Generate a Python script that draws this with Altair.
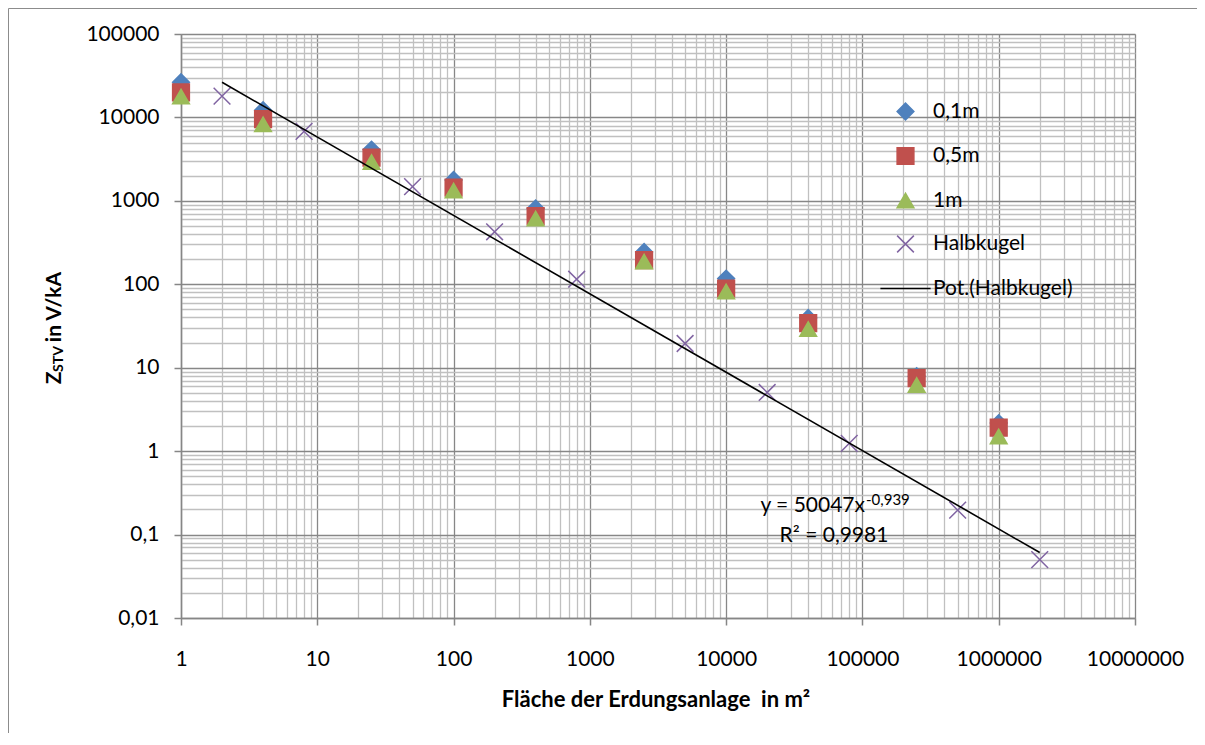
import altair as alt
import pandas as pd

# ---- data ----
areas_sq = [1, 4, 25, 100, 400, 2500, 10000, 40000, 250000, 1000000]
z_01m = [26400, 12200, 4120, 1780, 810, 244, 117, 39.4, 7.9, 2.17]
z_05m = [19950, 9530, 3300, 1440, 658, 195, 89, 34.2, 7.5, 1.91]
z_1m = [17800, 8270, 2920, 1330, 614, 187, 82, 29.1, 6.2, 1.50]
areas_half = [2, 8, 50, 200, 800, 5000, 20000, 80000, 500000, 2000000]
z_half = [18000, 6800, 1480, 426, 115, 19.5, 5.05, 1.24, 0.196, 0.0502]

series_names = ["0,1m", "0,5m", "1m", "Halbkugel", "Pot.(Halbkugel)"]
fill_colors = ["#4F81BD", "#C0504D", "#9BBB59", "transparent", "transparent"]
stroke_colors = ["#4F81BD", "#C0504D", "#9BBB59", "#8064A2", "#000000"]
shapes = ["diamond", "square", "triangle-up", "M-1,-1L1,1M-1,1L1,-1", "M-3,0L3,0"]

x_major = [1, 10, 100, 1000, 10000, 100000, 1000000, 10000000]
y_major = [0.01, 0.1, 1, 10, 100, 1000, 10000, 100000]
x_ticks = x_major + [m * t for t in x_major[:-1] for m in range(2, 10)]
y_ticks = y_major + [m * t for t in y_major[:-1] for m in range(2, 10)]

eq_text = "y = 50047x"
eq_exp = "-0,939"
r2_text = "R² = 0,9981"
x_title = "Fläche der Erdungsanlage\u00a0 in m²"

FONT = "Lato"
rows = []
for name, vals in zip(series_names[:3], [z_01m, z_05m, z_1m]):
    for a, v in zip(areas_sq, vals):
        rows.append({"area": a, "z": v, "series": name})
for a, v in zip(areas_half, z_half):
    rows.append({"area": a, "z": v, "series": "Halbkugel"})
df = pd.DataFrame(rows)
df_half = pd.DataFrame({"area": areas_half, "z": z_half})

major_test = "abs(log(datum.value)/LN10 - round(log(datum.value)/LN10)) < 1e-6"
grid_color = {"condition": {"test": major_test, "value": "#878787"}, "value": "#C0C0C0"}
tick_op = {"condition": {"test": major_test, "value": 1}, "value": 0}
label_expr = f"({major_test}) ? replace(toString(datum.value), '.', ',') : ''"

common_axis = dict(
    title=None, grid=True, gridColor=grid_color, gridWidth=1.3,
    tickOpacity=tick_op, tickSize=7, tickColor="#868686", tickWidth=1.5,
    domainColor="#868686", domainWidth=1.5, labelFont=FONT, labelFontSize=21,
    labelColor="black", labelExpr=label_expr, labelOverlap=False, labelFlush=False,
)
xaxis = alt.Axis(values=x_ticks, labelPadding=23, **common_axis)
yaxis = alt.Axis(values=y_ticks, labelPadding=15, **common_axis)
xscale = alt.Scale(type="log", domain=[1, 10000000], nice=False)
yscale = alt.Scale(type="log", domain=[0.01, 100000], nice=False)

leg = alt.Legend(orient="none", legendX=714, legendY=67, title=None,
                 symbolSize=280, symbolStrokeWidth=1.5, labelFont=FONT,
                 labelFontSize=21, labelColor="black", rowPadding=21.5,
                 labelOffset=17, padding=0)

points = alt.Chart(df).mark_point(opacity=1, size=280, strokeWidth=1.5).encode(
    x=alt.X("area:Q", scale=xscale, axis=xaxis),
    y=alt.Y("z:Q", scale=yscale, axis=yaxis),
    fill=alt.Fill("series:N", scale=alt.Scale(domain=series_names, range=fill_colors), legend=leg),
    stroke=alt.Stroke("series:N", scale=alt.Scale(domain=series_names, range=stroke_colors), legend=leg),
    shape=alt.Shape("series:N", scale=alt.Scale(domain=series_names, range=shapes), legend=leg),
)

trend = alt.Chart(df_half).transform_calculate(
    lx="log(datum.area)/LN10", ly="log(datum.z)/LN10"
).transform_regression("lx", "ly").transform_calculate(
    area="pow(10, datum.lx)", z="pow(10, datum.ly)"
).mark_line(color="black", strokeWidth=1.6).encode(
    x=alt.X("area:Q", scale=xscale, axis=xaxis),
    y=alt.Y("z:Q", scale=yscale, axis=yaxis),
)

def txt(s, x, y, size=21, bold=False, align="left", baseline="alphabetic", angle=0):
    return alt.Chart(pd.DataFrame({"t": [s]})).mark_text(
        font=FONT, fontSize=size, fontWeight="bold" if bold else "normal",
        align=align, baseline=baseline, angle=angle, color="black",
    ).encode(x=alt.value(x), y=alt.value(y), text="t:N")

frame = alt.Chart(pd.DataFrame({"k": [0]})).mark_rect(
    fill="transparent", stroke="#8c8c8c", strokeWidth=1
).encode(x=alt.value(-172.5), x2=alt.value(1100), y=alt.value(-25.5), y2=alt.value(800))

texts = [
    txt(eq_text, 684, 478, align="right"),
    txt(eq_exp, 685, 471, size=15),
    txt(r2_text, 653, 508, align="center"),
    txt(x_title, 475, 673, size=22, bold=True, align="center"),
    txt("Z", -126, 344, size=21, bold=True, align="center", baseline="middle", angle=270),
    txt("STV", -122, 325, size=14, bold=True, align="center", baseline="middle", angle=270),
    txt("in V/kA", -126, 273, size=21, bold=True, align="center", baseline="middle", angle=270),
]

chart = alt.layer(frame, points, trend, *texts).properties(
    width=954, height=584,
    autosize=alt.AutoSizeParams(type="none"),
    padding={"left": 173, "top": 26, "right": 62, "bottom": 115},
).configure_view(strokeWidth=0).configure(background="white")

chart.save("out.html", embed_options={"renderer": "svg", "actions": False})
